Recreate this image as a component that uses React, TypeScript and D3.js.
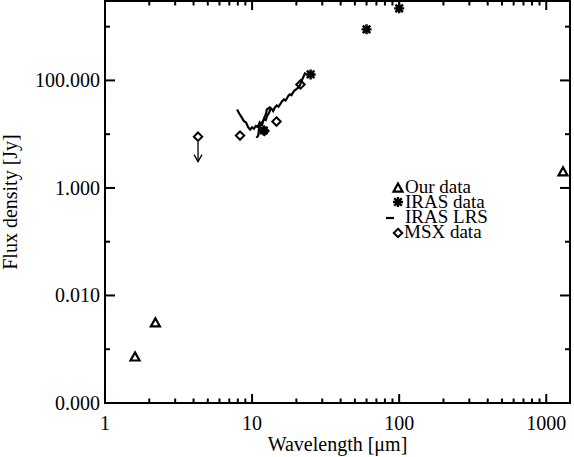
import React from "react";
import * as d3 from "d3";

const ourWl = [1.6, 2.2, 1300];
const ourFlux = [7.2e-4, 3.1e-3, 2.0];

const irasWl = [12, 25, 60, 100];
const irasFlux = [11.7, 129, 890, 2190];

const msxWl = [4.29, 8.28, 12.13, 14.65, 21.34];
const msxFlux = [9.0, 9.4, 11.5, 17.2, 84];
const msxUpper = [true, false, false, false, false];

const lrsBlueWl = [7.9, 8.2, 8.5, 8.8, 9.1, 9.4, 9.7, 10.0, 10.3, 10.6, 10.9, 11.2, 11.5, 11.8, 12.1, 12.4, 12.7, 13.0, 13.4];
const lrsBlueFlux = [28.8, 24, 20.5, 17.5, 16.5, 13.5, 12.2, 13.4, 12.6, 14.2, 13.6, 15.8, 14.8, 17.4, 19.2, 18.3, 22.5, 24.5, 30];

const lrsRedWl = [10.7, 11.0, 11.3, 11.7, 12.1, 12.4, 12.6, 13.2, 13.6, 13.9, 14.3, 14.7, 15.1, 15.5, 16.0, 16.5, 16.9, 17.3, 17.7, 18.1, 18.5, 19.0, 19.4, 19.9, 20.4, 20.9, 21.4, 21.9, 22.4, 23.0];
const lrsRedFlux = [8.6, 9.4, 16.5, 15.0, 20.4, 23.5, 28.8, 31.4, 29.5, 27.0, 31.5, 34.2, 32.5, 36.0, 41.0, 44.2, 42.5, 47.0, 52.5, 54.9, 53.0, 60.0, 64.5, 68.0, 72.0, 77.0, 88.0, 104.0, 118.0, 141.0];

const xTickLabels = ["1", "10", "100", "1000"];
const xTickValues = [1, 10, 100, 1000];
const yTickLabels = ["0.000", "0.010", "1.000", "100.000"];
const yTickValues = [1e-4, 1e-2, 1, 100];
const yMinorValues = [1e-3, 1e-1, 10, 1000];

const legendLabels = ["Our data", "IRAS data", "IRAS LRS", "MSX data"];

const W = 574;
const H = 457;
const L = 105, R = 570, T = 1, B = 403;
const FONT = "'Liberation Serif', 'DejaVu Serif', 'Times New Roman', serif";

const x = d3.scaleLog().domain([1, 1450]).range([L, R]);
const y = d3.scaleLog().domain([1e-4, 3000]).range([B, T]);

function Triangle({ cx, cy }: { cx: number; cy: number }) {
  const s = 4.5;
  return (
    <path
      d={`M${cx},${cy - s} L${cx + s},${cy + s * 0.8} L${cx - s},${cy + s * 0.8} Z`}
      fill="none"
      stroke="#000"
      strokeWidth={2.2}
      strokeLinejoin="miter"
    />
  );
}

function Asterisk({ cx, cy }: { cx: number; cy: number }) {
  const s = 5;
  const d = s * 0.75;
  return (
    <path
      d={`M${cx - s},${cy} L${cx + s},${cy} M${cx},${cy - s} L${cx},${cy + s} M${cx - d},${cy - d} L${cx + d},${cy + d} M${cx - d},${cy + d} L${cx + d},${cy - d}`}
      stroke="#000"
      strokeWidth={2.4}
      fill="none"
    />
  );
}

function Diamond({ cx, cy }: { cx: number; cy: number }) {
  const s = 4.2;
  return (
    <path
      d={`M${cx},${cy - s} L${cx + s},${cy} L${cx},${cy + s} L${cx - s},${cy} Z`}
      fill="none"
      stroke="#000"
      strokeWidth={2}
    />
  );
}

export default function App() {
  const line = d3
    .line<[number, number]>()
    .x((d) => x(d[0]))
    .y((d) => y(d[1]));

  const blue = lrsBlueWl.map((w, i) => [w, lrsBlueFlux[i]] as [number, number]);
  const red = lrsRedWl.map((w, i) => [w, lrsRedFlux[i]] as [number, number]);

  const xMinor: number[] = [];
  for (let dec = 1; dec <= 1000; dec *= 10) {
    for (let k = 2; k <= 9; k++) {
      const v = dec * k;
      if (v < 1450) xMinor.push(v);
    }
  }

  const legendX = 398;
  const legendBase = [193, 208, 223, 238];

  return (
    <svg
      width={W}
      height={H}
      style={{ position: "absolute", left: 0, top: 0, background: "#fff" }}
      fontFamily={FONT}
    >
      <rect x={0} y={0} width={W} height={H} fill="#fff" />
      {/* frame */}
      <rect x={L} y={T} width={R - L} height={B - T} fill="none" stroke="#000" strokeWidth={2} />

      {/* x ticks */}
      {xTickValues.map((v) => (
        <g key={"xm" + v}>
          <line x1={x(v)} x2={x(v)} y1={B} y2={B - 9} stroke="#000" strokeWidth={2} />
          <line x1={x(v)} x2={x(v)} y1={T} y2={T + 9} stroke="#000" strokeWidth={2} />
        </g>
      ))}
      {xMinor.map((v) => (
        <g key={"xn" + v}>
          <line x1={x(v)} x2={x(v)} y1={B} y2={B - 4.5} stroke="#000" strokeWidth={2} />
          <line x1={x(v)} x2={x(v)} y1={T} y2={T + 4.5} stroke="#000" strokeWidth={2} />
        </g>
      ))}
      {xTickValues.map((v, i) => (
        <text key={"xl" + v} x={x(v)} y={430} textAnchor="middle" fontSize={20}>
          {xTickLabels[i]}
        </text>
      ))}
      <text x={(L + R) / 2} y={451} textAnchor="middle" fontSize={20}>
        Wavelength [μm]
      </text>

      {/* y ticks */}
      {yTickValues.map((v) => (
        <g key={"ym" + v}>
          <line x1={L} x2={L + 10} y1={y(v)} y2={y(v)} stroke="#000" strokeWidth={2} />
          <line x1={R} x2={R - 10} y1={y(v)} y2={y(v)} stroke="#000" strokeWidth={2} />
        </g>
      ))}
      {yMinorValues.map((v) => (
        <g key={"yn" + v}>
          <line x1={L} x2={L + 5} y1={y(v)} y2={y(v)} stroke="#000" strokeWidth={2} />
          <line x1={R} x2={R - 5} y1={y(v)} y2={y(v)} stroke="#000" strokeWidth={2} />
        </g>
      ))}
      {yTickValues.map((v, i) => (
        <text key={"yl" + v} x={100} y={y(v) + 7} textAnchor="end" fontSize={20}>
          {yTickLabels[i]}
        </text>
      ))}
      <text
        transform={`translate(17, ${(T + B) / 2}) rotate(-90)`}
        textAnchor="middle"
        fontSize={20}
      >
        Flux density [Jy]
      </text>

      {/* LRS */}
      <path d={line(blue) || ""} fill="none" stroke="#000" strokeWidth={2.2} strokeLinejoin="miter" />
      <path d={line(red) || ""} fill="none" stroke="#000" strokeWidth={2.2} strokeLinejoin="miter" />

      {/* Our data */}
      {ourWl.map((w, i) => (
        <Triangle key={"o" + i} cx={x(w)} cy={y(ourFlux[i])} />
      ))}

      {/* IRAS */}
      {irasWl.map((w, i) => (
        <Asterisk key={"i" + i} cx={x(w)} cy={y(irasFlux[i])} />
      ))}

      {/* MSX */}
      {msxWl.map((w, i) => {
        const cx = x(w);
        const cy = y(msxFlux[i]);
        return (
          <g key={"m" + i}>
            <Diamond cx={cx} cy={cy} />
            {msxUpper[i] && (
              <g>
                <line x1={cx} x2={cx} y1={cy + 5} y2={cy + 25} stroke="#000" strokeWidth={1.3} />
                <path
                  d={`M${cx - 4},${cy + 18} L${cx},${cy + 25} L${cx + 4},${cy + 18}`}
                  fill="none"
                  stroke="#000"
                  strokeWidth={1.3}
                />
              </g>
            )}
          </g>
        );
      })}

      {/* legend */}
      <Triangle cx={legendX} cy={legendBase[0] - 5} />
      <Asterisk cx={legendX} cy={legendBase[1] - 6} />
      <line x1={386} x2={394} y1={legendBase[2] - 5} y2={legendBase[2] - 5} stroke="#000" strokeWidth={2.2} />
      <Diamond cx={legendX} cy={legendBase[3] - 5} />
      {legendLabels.map((t, i) => (
        <text key={t} x={i === 3 ? 404 : 405} y={legendBase[i]} fontSize={19}>
          {t}
        </text>
      ))}
    </svg>
  );
}
